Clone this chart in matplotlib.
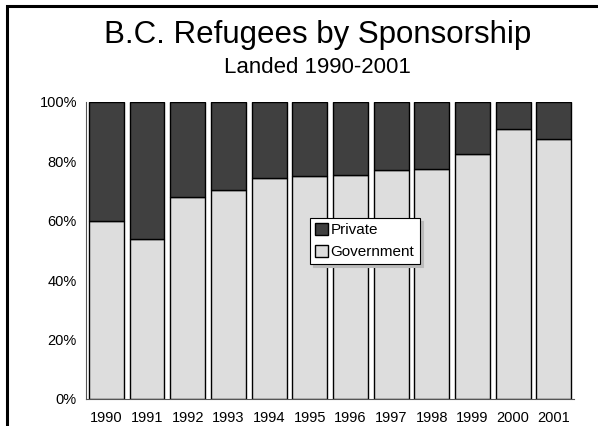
import numpy as np
import matplotlib.pyplot as plt
from matplotlib.patches import Rectangle

years = ["1990", "1991", "1992", "1993", "1994", "1995",
         "1996", "1997", "1998", "1999", "2000", "2001"]
government = [60, 54, 68, 70.5, 74.5, 75, 75.5, 77, 77.5, 82.5, 91, 87.5]
private = [100 - g for g in government]

plt.rcParams['font.family'] = ['Liberation Sans', 'DejaVu Sans']

fig = plt.figure(figsize=(5.98, 4.26), dpi=100)
ax = fig.add_axes([0.1438, 0.0634, 0.8162, 0.6972])

x = np.arange(len(years))
ax.bar(x, government, width=0.86, color='#dddddd', edgecolor='black',
       linewidth=1, label='Government')
ax.bar(x, private, width=0.86, bottom=government, color='#404040',
       edgecolor='black', linewidth=1, label='Private')

ax.set_xlim(-0.5, len(years) - 0.5)
ax.set_ylim(0, 100)
ax.set_yticks([0, 20, 40, 60, 80, 100])
ax.set_yticklabels(['0%', '20%', '40%', '60%', '80%', '100%'])
ax.set_xticks(x)
ax.set_xticklabels(years)
ax.tick_params(length=0, labelsize=10.5)
ax.tick_params(axis='y', pad=6.5)
ax.tick_params(axis='x', pad=8.5)
for s in ['top', 'right']:
    ax.spines[s].set_visible(False)
ax.spines['left'].set_color('#555555')
ax.spines['bottom'].set_color('#555555')

handles, labels = ax.get_legend_handles_labels()
leg = ax.legend(handles[::-1], labels[::-1], loc='upper left',
                bbox_to_anchor=(0.459, 0.61), frameon=True, fancybox=False,
                shadow={'color': '#bbbbbb', 'alpha': 1}, fontsize=11,
                handlelength=0.8, handleheight=0.8, handletextpad=0.2,
                borderpad=0.35, labelspacing=0.5, borderaxespad=0)
leg.get_frame().set_edgecolor('black')
leg.get_frame().set_linewidth(0.8)

fig.text(0.531, 0.898, "B.C. Refugees by Sponsorship", ha='center',
         va='baseline', fontsize=22.5)
fig.text(0.531, 0.828, "Landed 1990-2001", ha='center', va='baseline',
         fontsize=16)

# outer frame, clipped at right and bottom
fig.patches.append(Rectangle((0.012, -0.1), 1.1, 1.087, transform=fig.transFigure,
                             fill=False, edgecolor='black', linewidth=2.2))

fig.savefig("out.png", dpi=100)
